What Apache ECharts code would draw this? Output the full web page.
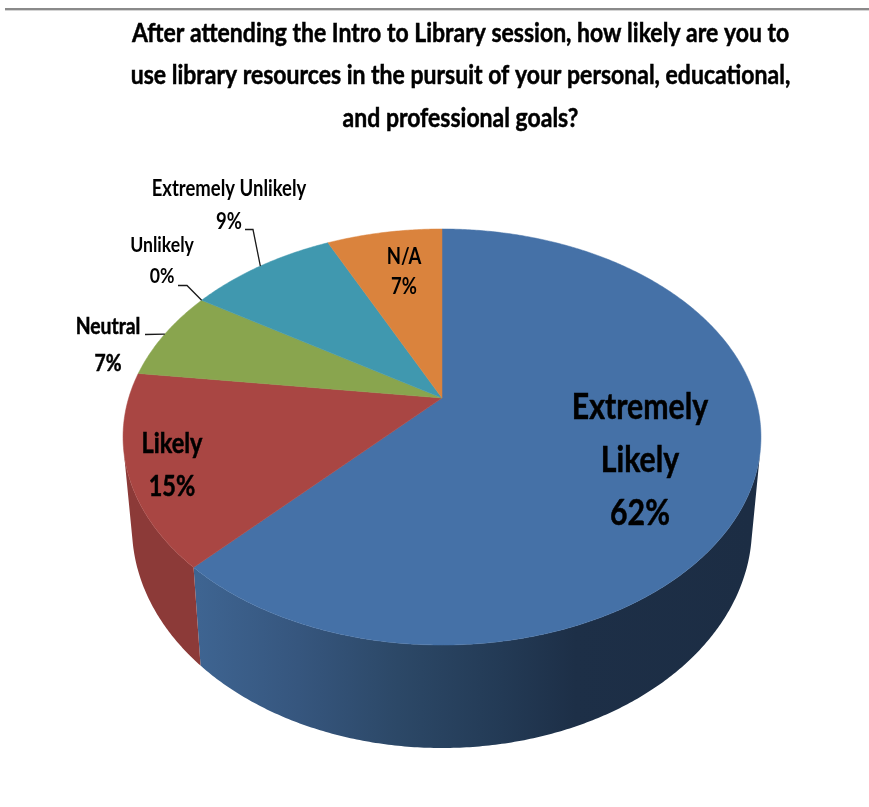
<!DOCTYPE html>
<html>
<head>
<meta charset="utf-8">
<style>html,body{margin:0;padding:0;background:#fff}#chart{width:869px;height:807px}</style>
<script src="https://cdn.jsdelivr.net/npm/echarts@6/dist/echarts.min.js"></script>
</head>
<body>
<div id="chart"></div>
<script>
// Survey responses, clockwise from twelve o'clock (percent of respondents)
const categories = ['Extremely Likely', 'Likely', 'Neutral', 'Unlikely', 'Extremely Unlikely', 'N/A'];
const percents = [62, 15, 7, 0, 9, 7];
const titleLines = [
  'After attending the Intro to Library session, how likely are you to',
  'use library resources in the pursuit of your personal, educational,',
  'and professional goals?'
];

const FONT = 'Lato, "Liberation Sans", sans-serif';
const topColors = ['#4571A7', '#A94643', '#89A54E', '#71588F', '#4098AF', '#DA833D'];

// Perspective model of the disc: apex, axes and foreshortening
const APEX = { x: 442, y: 398 };
const AXIS_U = 313.3, AXIS_V = 200.7, TILT = 0.1875;

function rim(fraction) {
  const a = fraction * 2 * Math.PI;
  const u = Math.sin(a), v = -Math.cos(a);
  const w = 1 - TILT * v;
  return [APEX.x + u * AXIS_U / w, APEX.y + v * AXIS_V / w];
}
// The lower edge of the wall sits below and slightly inside the upper rim
function lowerRim(p) {
  return [APEX.x + (p[0] - APEX.x) * 0.972, p[1] + 90 + (p[1] - 437) * 0.0625];
}

const total = percents.reduce((s, p) => s + p, 0);
const starts = [];
percents.reduce((acc, p, i) => { starts[i] = acc / total; return acc + p; }, 0);

function rimPoints(i) {
  const from = starts[i], to = from + percents[i] / total;
  const steps = Math.max(2, Math.ceil((to - from) * 720));
  const pts = [];
  for (let k = 0; k <= steps; k++) pts.push(rim(from + (to - from) * k / steps));
  return pts;
}

// Only the stretch of rim whose wall faces the viewer; the rest is hidden by the top face
function frontRim(pts) {
  const keep = [];
  for (let k = 0; k < pts.length - 1; k++) {
    const a = pts[k], b = pts[k + 1], d = lowerRim(a);
    const cross = (b[0] - a[0]) * (d[1] - a[1]) - (b[1] - a[1]) * (d[0] - a[0]);
    if (cross < 0) {
      if (!keep.length) keep.push(a);
      keep.push(b);
    }
  }
  return keep;
}

const wallFills = [
  new echarts.graphic.LinearGradient(199, 0, 752, 0, [
    { offset: 0, color: '#3e6491' },
    { offset: 0.18, color: '#36567e' },
    { offset: 0.36, color: '#2c4867' },
    { offset: 0.55, color: '#233a55' },
    { offset: 0.68, color: '#1d2f47' },
    { offset: 1, color: '#1c2d44' }
  ], true),
  '#8c3a38', '#6f8a3f', '#5a4672', '#33798c', '#b06a31'
];

// Label placement for each slice: centre of the text, size, stroke thickening, line gap, wrap, leader elbow
const labelLayout = [
  { x: 640, y: 460, size: 36, heavy: 0.5, gap: 53, wrap: true },
  { x: 172, y: 465, size: 28, heavy: 0.5, gap: 43, wrap: false },
  { x: 108, y: 345, size: 23, heavy: 0.5, gap: 37, wrap: false, leader: [[145, 334.5]] },
  { x: 162, y: 261, size: 21, heavy: 0, gap: 31, wrap: false, leader: [[178, 285.5], [187, 285.5]] },
  { x: 229, y: 205, size: 22, heavy: 0, gap: 33, wrap: false, leader: [[245, 229.5], [253, 229.5]] },
  { x: 404, y: 272, size: 22, heavy: 0, gap: 30, wrap: false }
];
const LABEL_SQUEEZE = 0.84;
const TITLE_SQUEEZE = 0.852;

const chart = echarts.init(document.getElementById('chart'), null, { renderer: 'canvas' });

chart.setOption({
  animation: false,
  backgroundColor: '#fff',
  graphic: [
    { type: 'rect', shape: { x: 5, y: 8, width: 864, height: 2 }, style: { fill: '#8a8a8a' }, silent: true },
    { type: 'rect', shape: { x: 5, y: 10, width: 864, height: 1 }, style: { fill: '#d4d4d4' }, silent: true },
    {
      type: 'text', silent: true, x: 460.5, y: 75.5, scaleX: TITLE_SQUEEZE,
      style: {
        text: titleLines.join('\n'), x: 0, y: 0,
        align: 'center', verticalAlign: 'middle',
        fill: '#000', stroke: '#000', lineWidth: 0.5, lineHeight: 42.5,
        font: 'bold 27px ' + FONT
      }
    }
  ],
  series: [
    {
      // Side walls of the disc
      type: 'custom', coordinateSystem: 'none', silent: true, z: 1,
      data: percents,
      renderItem(params) {
        const i = params.dataIndex;
        if (!percents[i]) return { type: 'group', children: [] };
        const front = frontRim(rimPoints(i));
        if (!front.length) return { type: 'group', children: [] };
        return {
          type: 'polygon',
          shape: { points: front.concat(front.map(lowerRim).reverse()) },
          style: { fill: wallFills[i] }
        };
      }
    },
    {
      // Top faces of the slices
      type: 'custom', coordinateSystem: 'none', silent: true, z: 2,
      data: percents,
      renderItem(params) {
        const i = params.dataIndex;
        if (!percents[i]) return { type: 'group', children: [] };
        return {
          type: 'polygon',
          shape: { points: [[APEX.x, APEX.y]].concat(rimPoints(i)) },
          style: { fill: topColors[i], stroke: topColors[i], lineWidth: 0.5 }
        };
      }
    },
    {
      // Category and percentage labels, with leaders to the middle of the slice rim
      type: 'custom', coordinateSystem: 'none', silent: true, z: 3,
      data: percents,
      renderItem(params) {
        const i = params.dataIndex, l = labelLayout[i];
        const name = l.wrap ? categories[i].replace(' ', '\n') : categories[i];
        const textStyle = {
          text: name + '\n' + percents[i] + '%',
          x: 0, y: 0,
          align: 'center', verticalAlign: 'middle',
          fill: '#000', lineHeight: l.gap,
          font: 'bold ' + l.size + 'px ' + FONT
        };
        if (l.heavy) {
          textStyle.stroke = '#000';
          textStyle.lineWidth = l.heavy;
        }
        const children = [{ type: 'text', x: l.x, y: l.y, scaleX: LABEL_SQUEEZE, style: textStyle }];
        if (l.leader) {
          const anchor = rim(starts[i] + percents[i] / total / 2);
          children.push({
            type: 'polyline',
            shape: { points: l.leader.concat([anchor]) },
            style: { fill: null, stroke: '#1a1a1a', lineWidth: 1.3 }
          });
        }
        return { type: 'group', children };
      }
    }
  ]
});
</script>
</body>
</html>
